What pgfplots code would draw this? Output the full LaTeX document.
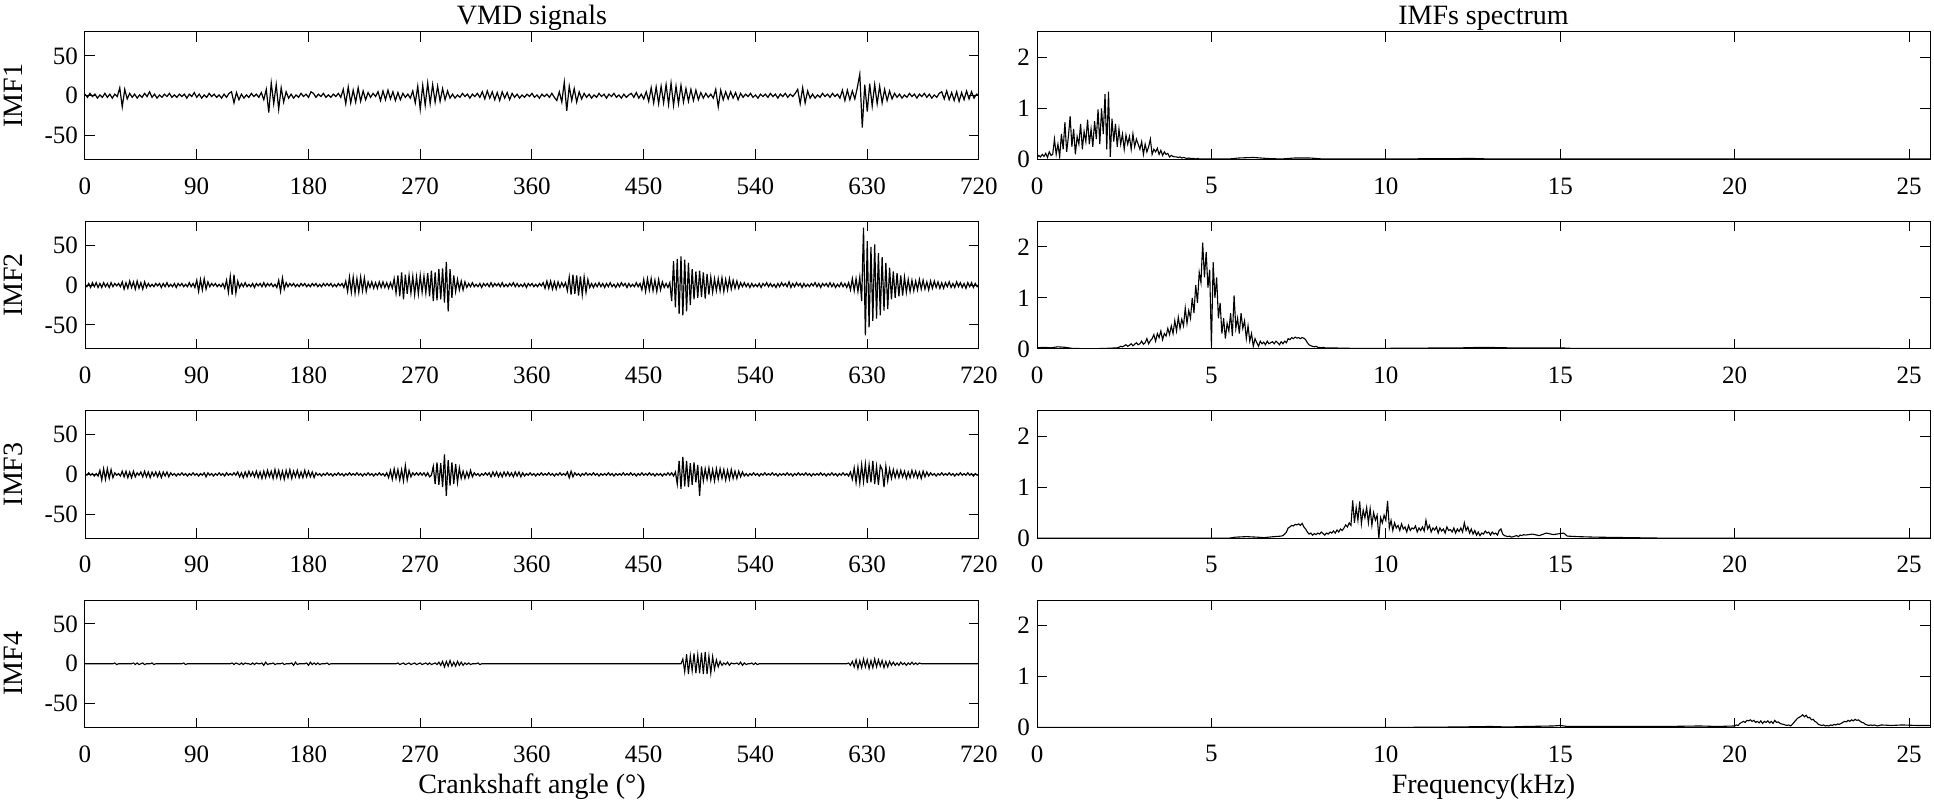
\documentclass[border=0pt]{standalone}
\usepackage{fontspec}
\setmainfont{Liberation Serif}
\usepackage{pgfplots}
\usepackage{pgfplotstable}
\pgfplotsset{compat=1.18}

% IMF1, one value every 2 degrees
\pgfplotstableread[row sep=\\]{
y\\
2\\ -2\\ 3\\ -1\\ 2\\ -3\\ 1\\ -2\\ 3\\ -2\\
2\\ -3\\ 2\\ -1\\ 10\\ -14\\ 8\\ -4\\ 3\\ -2\\
2\\ -3\\ 1\\ -2\\ 3\\ -1\\ 5\\ -2\\ 2\\ -3\\
1\\ -2\\ 2\\ -1\\ 3\\ -2\\ 1\\ -2\\ 2\\ -1\\
2\\ -3\\ 2\\ -1\\ 4\\ -2\\ 2\\ -3\\ 1\\ -2\\
3\\ -1\\ 2\\ -2\\ 1\\ -3\\ 2\\ -2\\ 3\\ 5\\
-9\\ 4\\ -5\\ 2\\ -3\\ 1\\ -2\\ 3\\ -1\\ 2\\
-2\\ 4\\ -5\\ 8\\ -21\\ 16\\ -10\\ 14\\ -17\\ 10\\
-8\\ 5\\ -3\\ 2\\ -3\\ 1\\ -2\\ 3\\ -1\\ 2\\
-2\\ 5\\ 3\\ -2\\ 2\\ -1\\ 3\\ -2\\ 1\\ -2\\
2\\ -1\\ 3\\ -2\\ 8\\ -10\\ 11\\ -9\\ 7\\ -8\\
10\\ -7\\ 6\\ -5\\ 4\\ -2\\ 3\\ -1\\ 5\\ -6\\
6\\ -5\\ 7\\ -4\\ 5\\ -6\\ 4\\ -5\\ 3\\ -2\\
2\\ -3\\ 6\\ -9\\ 12\\ -17\\ 13\\ -12\\ 16\\ -10\\
14\\ -8\\ 12\\ -7\\ 9\\ -5\\ 6\\ -3\\ 2\\ -3\\
1\\ -2\\ 3\\ -1\\ 2\\ -3\\ 2\\ -1\\ 3\\ -2\\
5\\ -4\\ 6\\ -3\\ 5\\ -5\\ 4\\ -6\\ 5\\ -3\\
4\\ -5\\ 3\\ -2\\ 2\\ -3\\ 1\\ -2\\ 2\\ -1\\
3\\ -2\\ 1\\ -3\\ 2\\ -1\\ 2\\ -2\\ 3\\ -2\\
-6\\ 5\\ -8\\ 17\\ -19\\ 12\\ -6\\ 9\\ -8\\ 5\\
-4\\ 3\\ -2\\ 2\\ -3\\ 1\\ -2\\ 3\\ -1\\ 2\\
-3\\ 2\\ -1\\ 3\\ -2\\ 1\\ -3\\ 2\\ -2\\ 1\\
3\\ -2\\ 4\\ -3\\ 2\\ -4\\ 5\\ -7\\ 10\\ -9\\
11\\ -10\\ 12\\ -9\\ 14\\ -11\\ 16\\ -12\\ 12\\ -10\\
13\\ -8\\ 9\\ -7\\ 8\\ -6\\ 7\\ -5\\ 4\\ -3\\
3\\ -2\\ 2\\ -3\\ 8\\ -14\\ 7\\ -5\\ 5\\ -4\\
5\\ -3\\ 4\\ -5\\ 3\\ -2\\ 2\\ -1\\ 3\\ -2\\
1\\ -3\\ 2\\ -1\\ 2\\ -2\\ 3\\ -1\\ 2\\ -3\\
2\\ -1\\ 3\\ -2\\ 2\\ -1\\ 3\\ 8\\ -10\\ 10\\
-9\\ 6\\ -3\\ 2\\ -3\\ 1\\ -2\\ 3\\ -1\\ 2\\
-2\\ 3\\ -1\\ 2\\ -3\\ 7\\ -6\\ 7\\ -5\\ 6\\
-4\\ 10\\ 27\\ -40\\ 14\\ -20\\ 15\\ -13\\ 14\\ -10\\
12\\ -9\\ 8\\ -6\\ 6\\ -4\\ 3\\ -2\\ 2\\ -3\\
1\\ -2\\ 3\\ -1\\ 2\\ -3\\ 2\\ -1\\ 3\\ -2\\
2\\ -3\\ 1\\ -2\\ 3\\ 5\\ -4\\ 6\\ -5\\ 4\\
-6\\ 5\\ -7\\ 4\\ -5\\ 6\\ -4\\ 5\\ -3\\ 2\\
1\\
}\imfA

% IMF2, one value every 1.5 degrees
\pgfplotstableread[row sep=\\]{
y\\
1\\ -2\\ 2\\ -3\\ 3\\ -2\\ 3\\ -3\\ 2\\ -3\\ 3\\ -2\\ 2\\ -3\\ 3\\ -2\\ 2\\ -1\\ 2\\ -2\\
4\\ -5\\ 3\\ -4\\ 5\\ -3\\ 4\\ -5\\ 5\\ -4\\ 3\\ -5\\ 4\\ -3\\ 2\\ -2\\ 1\\ -2\\ 2\\ -1\\
2\\ -3\\ 2\\ -2\\ 3\\ -2\\ 1\\ -2\\ 2\\ -3\\ 2\\ -1\\ 2\\ -2\\ 1\\ -2\\ 3\\ -2\\ 2\\ -3\\
6\\ -8\\ 7\\ -6\\ 8\\ -5\\ 4\\ -2\\ 2\\ -1\\ 2\\ -2\\ 1\\ -2\\ 2\\ -4\\ 6\\ -9\\ 11\\ -12\\
13\\ -10\\ 5\\ -3\\ 2\\ -2\\ 3\\ -2\\ 1\\ -2\\ 2\\ -3\\ 2\\ -1\\ 2\\ -2\\ 3\\ -2\\ 2\\ -1\\
2\\ -2\\ 1\\ -3\\ 6\\ -8\\ 9\\ -5\\ 3\\ -2\\ 2\\ -1\\ 2\\ -2\\ 1\\ -2\\ 2\\ -1\\ 2\\ -2\\
1\\ -2\\ 2\\ -1\\ 2\\ -2\\ 1\\ -2\\ 2\\ -1\\ 2\\ -1\\ 2\\ -2\\ 1\\ -2\\ 2\\ -1\\ 2\\ -3\\
5\\ -8\\ 10\\ -9\\ 10\\ -10\\ 8\\ -9\\ 10\\ -7\\ 9\\ -8\\ 4\\ -3\\ 4\\ -4\\ 3\\ -4\\ 4\\ -3\\
4\\ -3\\ 3\\ -4\\ 3\\ -4\\ 8\\ -10\\ 12\\ -14\\ 16\\ -18\\ 13\\ -11\\ 12\\ -10\\ 11\\ -12\\ 10\\ -11\\
12\\ -9\\ 11\\ -10\\ 15\\ -14\\ 18\\ -20\\ 16\\ -19\\ 20\\ -18\\ 21\\ -22\\ 29\\ -33\\ 20\\ -16\\ 12\\ -8\\
7\\ -6\\ 5\\ -6\\ 4\\ -3\\ 2\\ -2\\ 3\\ -2\\ 1\\ -2\\ 2\\ -3\\ 2\\ -1\\ 2\\ -2\\ 3\\ -2\\
2\\ -1\\ 2\\ -2\\ 3\\ -2\\ 1\\ -2\\ 2\\ -1\\ 3\\ -2\\ 2\\ -2\\ 1\\ -2\\ 2\\ -3\\ 2\\ -1\\
2\\ -2\\ 1\\ -2\\ 2\\ -1\\ 3\\ -4\\ 5\\ -4\\ 5\\ -5\\ 4\\ -5\\ 4\\ -3\\ 3\\ -2\\ 3\\ -7\\
10\\ -12\\ 13\\ -11\\ 12\\ -13\\ 11\\ -12\\ 10\\ -9\\ 7\\ -3\\ 2\\ -3\\ 2\\ -2\\ 3\\ -2\\ 2\\ -3\\
2\\ -2\\ 3\\ -2\\ 1\\ -3\\ 2\\ -2\\ 3\\ -1\\ 2\\ -3\\ 2\\ -2\\ 1\\ -2\\ 3\\ -2\\ 2\\ -6\\
7\\ -8\\ 8\\ -6\\ 8\\ -7\\ 6\\ -8\\ 7\\ -6\\ 4\\ -3\\ 2\\ -3\\ 3\\ -20\\ 30\\ -28\\ 33\\ -36\\
36\\ -38\\ 32\\ -33\\ 28\\ -25\\ 20\\ -18\\ 17\\ -16\\ 18\\ -15\\ 16\\ -17\\ 14\\ -12\\ 10\\ -9\\ 8\\ -7\\
8\\ -7\\ 9\\ -8\\ 7\\ -6\\ 8\\ -5\\ 6\\ -4\\ 5\\ -4\\ 3\\ -2\\ 3\\ -2\\ 2\\ -3\\ 2\\ -2\\
1\\ -2\\ 2\\ -3\\ 2\\ -1\\ 3\\ -2\\ 2\\ -2\\ 1\\ -3\\ 2\\ -2\\ 3\\ -1\\ 2\\ -2\\ 4\\ -3\\
2\\ -2\\ 3\\ -1\\ 2\\ -3\\ 2\\ -2\\ 1\\ -2\\ 2\\ -1\\ 3\\ -2\\ 2\\ -3\\ 2\\ -1\\ 2\\ -2\\
3\\ -2\\ 2\\ -3\\ 1\\ -2\\ 3\\ -2\\ 2\\ -3\\ 3\\ -6\\ 8\\ -7\\ 8\\ -8\\ 10\\ -20\\ 72\\ -63\\
55\\ -53\\ 48\\ -45\\ 51\\ -42\\ 40\\ -38\\ 35\\ -32\\ 28\\ -30\\ 22\\ -18\\ 17\\ -16\\ 15\\ -14\\ 12\\ -13\\
10\\ -9\\ 7\\ -8\\ 6\\ -7\\ 5\\ -6\\ 7\\ -5\\ 6\\ -5\\ 4\\ -6\\ 5\\ -4\\ 5\\ -3\\ 4\\ -4\\
3\\ -4\\ 3\\ -2\\ 4\\ -3\\ 2\\ -3\\ 4\\ -2\\ 3\\ -3\\ 2\\ -4\\ 3\\ -2\\ 3\\ -3\\ 2\\ -2\\
1\\
}\imfB

% IMF3, one value every 1.5 degrees
\pgfplotstableread[row sep=\\]{
y\\
1\\ -1\\ 2\\ -1\\ 1\\ -2\\ 1\\ -2\\ 5\\ -7\\ 7\\ -6\\ 7\\ -5\\ 6\\ -4\\ 2\\ -1\\ 1\\ -2\\
4\\ -3\\ 4\\ -4\\ 3\\ -4\\ 4\\ -3\\ 2\\ -1\\ 3\\ -3\\ 4\\ -3\\ 3\\ -4\\ 3\\ -2\\ 3\\ -3\\
3\\ -4\\ 3\\ -2\\ 3\\ -3\\ 2\\ -1\\ 1\\ -2\\ 1\\ -1\\ 2\\ -1\\ 1\\ -2\\ 1\\ -1\\ 2\\ -1\\
1\\ -2\\ 1\\ -1\\ 2\\ -3\\ 2\\ -1\\ 1\\ -2\\ 1\\ -1\\ 2\\ -1\\ 1\\ -2\\ 2\\ -1\\ 1\\ -1\\
2\\ -1\\ 3\\ -3\\ 2\\ -4\\ 3\\ -3\\ 4\\ -2\\ 3\\ -3\\ 4\\ -4\\ 3\\ -5\\ 4\\ -4\\ 5\\ -3\\
4\\ -5\\ 6\\ -4\\ 5\\ -5\\ 4\\ -6\\ 5\\ -4\\ 6\\ -5\\ 4\\ -3\\ 5\\ -4\\ 3\\ -4\\ 5\\ -3\\
4\\ -3\\ 3\\ -4\\ 2\\ -1\\ 1\\ -2\\ 1\\ -1\\ 2\\ -1\\ 1\\ -2\\ 1\\ -1\\ 2\\ -1\\ 1\\ -2\\
1\\ -1\\ 2\\ -1\\ 1\\ -1\\ 2\\ -1\\ 1\\ -2\\ 1\\ -1\\ 2\\ -1\\ 1\\ -2\\ 1\\ -1\\ 2\\ -1\\
1\\ -2\\ 2\\ -4\\ 5\\ -6\\ 7\\ -5\\ 6\\ -7\\ 6\\ -8\\ 11\\ -7\\ 5\\ -3\\ 2\\ -1\\ 2\\ -1\\
2\\ -1\\ 2\\ -2\\ 2\\ -3\\ -1\\ 10\\ -12\\ 15\\ -13\\ 14\\ -16\\ 25\\ -27\\ 18\\ -14\\ 15\\ -12\\ 13\\
-10\\ 8\\ -5\\ 4\\ -5\\ 3\\ -4\\ 5\\ -3\\ 2\\ -1\\ 1\\ -2\\ 1\\ -1\\ 2\\ -1\\ 2\\ -3\\ 3\\
-2\\ 3\\ -3\\ 2\\ -3\\ 3\\ -2\\ 3\\ -2\\ 2\\ -3\\ 3\\ -2\\ 3\\ -3\\ 2\\ -2\\ 1\\ -1\\ 2\\
-1\\ 1\\ -2\\ 1\\ -1\\ 2\\ -1\\ 1\\ -1\\ 2\\ -1\\ 1\\ -2\\ 1\\ -1\\ 2\\ -1\\ 1\\ -1\\ 3\\
-4\\ 4\\ -3\\ 2\\ -1\\ 1\\ -2\\ 1\\ -1\\ 2\\ -1\\ 1\\ -1\\ 2\\ -1\\ 1\\ -2\\ 1\\ -1\\ 1\\
-1\\ 2\\ -1\\ 1\\ -2\\ 1\\ -1\\ 1\\ -1\\ 2\\ -1\\ 1\\ -1\\ 2\\ -1\\ 1\\ -2\\ 1\\ -1\\ 2\\
-1\\ 1\\ -1\\ 2\\ -1\\ 1\\ -2\\ 1\\ -1\\ 1\\ -2\\ 1\\ -1\\ 2\\ -1\\ 2\\ -2\\ 3\\ -12\\ 17\\
-18\\ 22\\ -15\\ 17\\ -16\\ 14\\ -13\\ 15\\ -10\\ 12\\ -27\\ 10\\ -8\\ 7\\ -6\\ 8\\ -7\\ 6\\ -8\\ 7\\
-6\\ 7\\ -5\\ 6\\ -7\\ 5\\ -6\\ 6\\ -5\\ 4\\ -5\\ 4\\ -3\\ 3\\ -2\\ 1\\ -2\\ 1\\ -1\\ 2\\
-1\\ 1\\ -2\\ 1\\ -1\\ 2\\ -1\\ 1\\ -1\\ 2\\ -1\\ 1\\ -2\\ 1\\ -1\\ 1\\ -1\\ 2\\ -1\\ 1\\
-2\\ 1\\ -1\\ 2\\ -1\\ 1\\ -1\\ 2\\ -1\\ 1\\ -2\\ 1\\ -1\\ 1\\ -1\\ 2\\ -1\\ 1\\ -2\\ 1\\
-1\\ 2\\ -1\\ 1\\ -2\\ 1\\ -1\\ 2\\ -1\\ 1\\ -2\\ 3\\ -6\\ 8\\ -10\\ 9\\ -11\\ 12\\ -9\\ 13\\
-11\\ 12\\ -10\\ 17\\ -12\\ 10\\ -13\\ 11\\ 6\\ -16\\ 10\\ -8\\ 7\\ -5\\ 6\\ -4\\ 5\\ -4\\ 5\\ -3\\
4\\ -5\\ 3\\ -4\\ 5\\ -3\\ 4\\ -4\\ 3\\ -5\\ 4\\ -3\\ 3\\ -2\\ 2\\ -1\\ 1\\ -2\\ 1\\ -1\\
2\\ -1\\ 1\\ -1\\ 2\\ -1\\ 1\\ -2\\ 1\\ -1\\ 2\\ -1\\ 1\\ -1\\ 2\\ -1\\ 1\\ -2\\ 1\\ -1\\
0\\
}\imfC

% IMF4, one value every 1.5 degrees
\pgfplotstableread[row sep=\\]{
y\\
0\\ 0\\ 0\\ 0\\ 0\\ 0\\ 0\\ 0\\ 0\\ 0\\ 0\\ 0\\ 0\\ 0\\ 0\\ 0\\ 1\\ -1\\ 0\\ 0\\
0\\ 0\\ 0\\ 0\\ 0\\ 0\\ 1\\ -1\\ 1\\ -1\\ 0\\ 1\\ -1\\ 0\\ 0\\ 0\\ 1\\ -1\\ 0\\ 0\\
0\\ 0\\ 0\\ 0\\ 0\\ 0\\ 0\\ 0\\ 0\\ 0\\ 0\\ 0\\ 0\\ 1\\ -1\\ 0\\ 0\\ 0\\ 0\\ 0\\
0\\ 0\\ 0\\ 0\\ 0\\ 0\\ 0\\ 0\\ 0\\ 0\\ 0\\ 0\\ 0\\ 0\\ 0\\ 0\\ 0\\ 0\\ 0\\ 1\\
-1\\ 1\\ 0\\ -1\\ 1\\ -1\\ 1\\ 0\\ 0\\ -1\\ 1\\ -1\\ 1\\ 0\\ 0\\ 1\\ -2\\ 2\\ -1\\ 0\\
0\\ 1\\ -1\\ 0\\ 0\\ 0\\ 1\\ -1\\ 0\\ 0\\ 0\\ 1\\ -2\\ 2\\ -1\\ 0\\ 0\\ 0\\ 0\\ 1\\
-2\\ 2\\ -1\\ 1\\ -1\\ 1\\ -1\\ 0\\ 0\\ 0\\ 1\\ -1\\ 0\\ 0\\ 0\\ 0\\ 0\\ 0\\ 0\\ 0\\
0\\ 0\\ 0\\ 0\\ 0\\ 0\\ 0\\ 0\\ 0\\ 0\\ 0\\ 0\\ 0\\ 0\\ 0\\ 0\\ 0\\ 0\\ 0\\ 0\\
0\\ 0\\ 0\\ 0\\ 0\\ 0\\ 0\\ 0\\ 1\\ -1\\ 0\\ 1\\ -1\\ 0\\ 1\\ -1\\ 0\\ 1\\ -1\\ 0\\
1\\ -1\\ 0\\ 1\\ -1\\ 1\\ -1\\ 0\\ 1\\ -1\\ 2\\ -2\\ 3\\ -4\\ 3\\ -3\\ 4\\ -3\\ 2\\ -3\\
3\\ -2\\ 2\\ -2\\ 1\\ -1\\ 1\\ -1\\ 0\\ 0\\ 0\\ 1\\ -1\\ 0\\ 0\\ 0\\ 0\\ 0\\ 0\\ 0\\
0\\ 0\\ 0\\ 0\\ 0\\ 0\\ 0\\ 0\\ 0\\ 0\\ 0\\ 0\\ 0\\ 0\\ 0\\ 0\\ 0\\ 0\\ 0\\ 0\\
0\\ 0\\ 0\\ 0\\ 0\\ 0\\ 0\\ 0\\ 0\\ 0\\ 0\\ 0\\ 0\\ 0\\ 0\\ 0\\ 0\\ 0\\ 0\\ 0\\
0\\ 0\\ 0\\ 0\\ 0\\ 0\\ 0\\ 0\\ 0\\ 0\\ 0\\ 0\\ 0\\ 0\\ 0\\ 0\\ 0\\ 0\\ 0\\ 0\\
0\\ 0\\ 0\\ 0\\ 0\\ 0\\ 0\\ 0\\ 0\\ 0\\ 0\\ 0\\ 0\\ 0\\ 0\\ 0\\ 0\\ 0\\ 0\\ 0\\
0\\ 0\\ 0\\ 0\\ 0\\ 0\\ 0\\ 0\\ 0\\ 0\\ 0\\ 0\\ 0\\ 0\\ 0\\ 0\\ 0\\ 0\\ 0\\ 0\\
0\\ 6\\ -10\\ 12\\ -13\\ 10\\ -9\\ 13\\ -12\\ 11\\ -12\\ 14\\ -13\\ 15\\ -13\\ 10\\ -12\\ 9\\ -7\\ 5\\
-4\\ 3\\ -2\\ 1\\ -1\\ 2\\ -2\\ 1\\ 0\\ 0\\ 1\\ -1\\ 2\\ -2\\ 1\\ -1\\ 0\\ 0\\ 1\\ -1\\
1\\ -1\\ 0\\ 0\\ 0\\ 0\\ 0\\ 0\\ 0\\ 0\\ 0\\ 0\\ 0\\ 0\\ 0\\ 0\\ 0\\ 0\\ 0\\ 0\\
0\\ 0\\ 0\\ 0\\ 0\\ 0\\ 0\\ 0\\ 0\\ 0\\ 0\\ 0\\ 0\\ 0\\ 0\\ 0\\ 0\\ 0\\ 0\\ 0\\
0\\ 0\\ 0\\ 0\\ 0\\ 0\\ 0\\ 0\\ 0\\ 0\\ 1\\ -2\\ 3\\ -4\\ 5\\ -6\\ 4\\ -5\\ 6\\ -4\\
5\\ -6\\ 4\\ -5\\ 6\\ -4\\ 5\\ -3\\ 4\\ -5\\ 3\\ -4\\ 3\\ -2\\ 2\\ -2\\ 1\\ -2\\ 2\\ -1\\
1\\ -2\\ 1\\ -1\\ 2\\ -1\\ 1\\ -1\\ 1\\ 0\\ 0\\ 0\\ 0\\ 0\\ 0\\ 0\\ 0\\ 0\\ 0\\ 0\\
0\\ 0\\ 0\\ 0\\ 0\\ 0\\ 0\\ 0\\ 0\\ 0\\ 0\\ 0\\ 0\\ 0\\ 0\\ 0\\ 0\\ 0\\ 0\\ 0\\
0\\
}\imfD

% spectra, one value every 0.05 kHz over the active band
\pgfplotstableread[row sep=\\]{
y\\
0.03\\ 0.08\\ 0.05\\ 0.1\\ 0.06\\ 0.12\\ 0.04\\ 0.15\\ 0.08\\ 0.1\\
0.4\\ 0.1\\ 0.3\\ 0.05\\ 0.5\\ 0.2\\ 0.73\\ 0.15\\ 0.45\\ 0.85\\
0.25\\ 0.6\\ 0.1\\ 0.45\\ 0.3\\ 0.7\\ 0.2\\ 0.55\\ 0.35\\ 0.78\\
0.3\\ 0.6\\ 0.25\\ 0.75\\ 0.4\\ 0.98\\ 0.3\\ 1.0\\ 0.5\\ 1.28\\
0.2\\ 1.33\\ 0.05\\ 0.8\\ 0.35\\ 0.7\\ 0.25\\ 0.6\\ 0.3\\ 0.5\\
0.2\\ 0.48\\ 0.3\\ 0.45\\ 0.2\\ 0.5\\ 0.25\\ 0.4\\ 0.3\\ 0.2\\
0.35\\ 0.1\\ 0.3\\ 0.15\\ 0.25\\ 0.4\\ 0.1\\ 0.2\\ 0.15\\ 0.22\\
0.1\\ 0.18\\ 0.08\\ 0.15\\ 0.1\\ 0.12\\ 0.05\\ 0.08\\ 0.06\\ 0.05\\
0.05\\ 0.04\\ 0.05\\ 0.03\\ 0.04\\ 0.03\\ 0.02\\ 0.03\\ 0.02\\ 0.02\\
0.02\\ 0.01\\ 0.02\\ 0.01\\ 0.01\\ 0.01\\ 0.01\\ 0.01\\ 0.01\\ 0.01\\
0.01\\
}\spA

\pgfplotstableread[row sep=\\]{
y\\
0.02\\ 0.03\\ 0.05\\ 0.04\\ 0.06\\ 0.08\\ 0.05\\ 0.07\\ 0.1\\ 0.06\\
0.09\\ 0.12\\ 0.08\\ 0.1\\ 0.15\\ 0.09\\ 0.12\\ 0.2\\ 0.1\\ 0.16\\
0.2\\ 0.28\\ 0.15\\ 0.3\\ 0.22\\ 0.35\\ 0.18\\ 0.3\\ 0.25\\ 0.4\\
0.28\\ 0.45\\ 0.3\\ 0.55\\ 0.35\\ 0.62\\ 0.4\\ 0.58\\ 0.45\\ 0.8\\
0.5\\ 0.75\\ 0.6\\ 1.0\\ 0.7\\ 1.25\\ 0.9\\ 1.5\\ 1.3\\ 2.08\\
1.4\\ 1.9\\ 1.2\\ 1.55\\ 0.05\\ 1.7\\ 1.0\\ 1.4\\ 0.6\\ 0.9\\
0.3\\ 0.6\\ 0.2\\ 0.5\\ 0.35\\ 0.7\\ 0.25\\ 1.05\\ 0.4\\ 0.6\\
0.3\\ 0.7\\ 0.4\\ 0.55\\ 0.2\\ 0.45\\ 0.15\\ 0.3\\ 0.05\\ 0.2\\
0.12\\ 0.05\\ 0.15\\ 0.1\\ 0.13\\ 0.08\\ 0.15\\ 0.1\\ 0.12\\ 0.14\\
0.1\\ 0.15\\ 0.12\\ 0.08\\ 0.14\\ 0.1\\ 0.15\\ 0.12\\ 0.2\\ 0.18\\
0.22\\ 0.2\\ 0.23\\ 0.21\\ 0.22\\ 0.2\\ 0.22\\ 0.21\\ 0.18\\ 0.12\\
0.08\\ 0.06\\ 0.05\\ 0.04\\ 0.05\\ 0.03\\ 0.03\\ 0.02\\ 0.03\\ 0.02\\
0.02\\
}\spB

\pgfplotstableread[row sep=\\]{
y\\
0.04\\ 0.05\\ 0.08\\ 0.12\\ 0.2\\ 0.22\\ 0.25\\ 0.24\\ 0.27\\ 0.26\\
0.28\\ 0.25\\ 0.29\\ 0.22\\ 0.18\\ 0.12\\ 0.08\\ 0.1\\ 0.06\\ 0.09\\
0.07\\ 0.1\\ 0.08\\ 0.12\\ 0.09\\ 0.06\\ 0.1\\ 0.08\\ 0.12\\ 0.1\\
0.14\\ 0.1\\ 0.16\\ 0.12\\ 0.18\\ 0.15\\ 0.2\\ 0.26\\ 0.22\\ 0.3\\
0.25\\ 0.74\\ 0.3\\ 0.6\\ 0.35\\ 0.72\\ 0.28\\ 0.55\\ 0.4\\ 0.6\\
0.3\\ 0.58\\ 0.25\\ 0.5\\ 0.35\\ 0.45\\ 0.0\\ 0.4\\ 0.3\\ 0.45\\
0.35\\ 0.73\\ 0.2\\ 0.35\\ 0.15\\ 0.3\\ 0.2\\ 0.25\\ 0.15\\ 0.28\\
0.18\\ 0.22\\ 0.12\\ 0.25\\ 0.15\\ 0.2\\ 0.18\\ 0.24\\ 0.12\\ 0.2\\
0.15\\ 0.22\\ 0.14\\ 0.35\\ 0.18\\ 0.25\\ 0.12\\ 0.2\\ 0.16\\ 0.22\\
0.1\\ 0.2\\ 0.14\\ 0.18\\ 0.1\\ 0.22\\ 0.15\\ 0.17\\ 0.12\\ 0.2\\
0.1\\ 0.18\\ 0.13\\ 0.2\\ 0.12\\ 0.3\\ 0.15\\ 0.22\\ 0.1\\ 0.18\\
0.08\\ 0.15\\ 0.06\\ 0.12\\ 0.05\\ 0.1\\ 0.08\\ 0.14\\ 0.1\\ 0.12\\
0.06\\ 0.12\\ 0.08\\ 0.1\\ 0.06\\ 0.15\\ 0.18\\ 0.08\\ 0.05\\ 0.04\\
0.03\\ 0.04\\ 0.02\\ 0.03\\ 0.04\\ 0.05\\ 0.03\\ 0.06\\ 0.05\\ 0.07\\
0.06\\
}\spC

\pgfplotstableread[row sep=\\]{
y\\
0.03\\ 0.05\\ 0.04\\ 0.08\\ 0.1\\ 0.12\\ 0.1\\ 0.14\\ 0.13\\ 0.15\\
0.12\\ 0.14\\ 0.1\\ 0.12\\ 0.09\\ 0.13\\ 0.08\\ 0.12\\ 0.1\\ 0.13\\
0.09\\ 0.12\\ 0.08\\ 0.14\\ 0.1\\ 0.11\\ 0.08\\ 0.07\\ 0.06\\ 0.05\\
0.04\\ 0.05\\ 0.03\\ 0.06\\ 0.1\\ 0.14\\ 0.18\\ 0.2\\ 0.22\\ 0.25\\
0.21\\ 0.24\\ 0.19\\ 0.2\\ 0.15\\ 0.16\\ 0.12\\ 0.1\\ 0.06\\ 0.05\\
0.04\\ 0.05\\ 0.03\\ 0.04\\ 0.03\\ 0.05\\ 0.04\\ 0.06\\ 0.05\\ 0.07\\
0.06\\ 0.08\\ 0.1\\ 0.12\\ 0.11\\ 0.14\\ 0.12\\ 0.15\\ 0.13\\ 0.16\\
0.14\\ 0.15\\ 0.12\\ 0.1\\ 0.09\\ 0.06\\ 0.05\\ 0.04\\ 0.05\\ 0.04\\
0.05\\ 0.04\\ 0.03\\ 0.04\\ 0.05\\
}\spD

\pgfplotsset{
  every axis title/.style={at={(0.5,1)}, anchor=base, yshift=3.5pt,
    font=\fontsize{14}{15}\selectfont},
  every axis/.append style={
    scale only axis, height=63.75pt, anchor=north west,
    tick align=inside, major tick length=5pt,
    axis line style={line width=0.5pt},
    every tick/.style={black, line width=0.5pt},
    /pgf/number format/assume math mode=true,
    tick label style={font=\fontsize{12.5}{13}\selectfont},
    label style={font=\fontsize{14}{15}\selectfont},
    xticklabel style={yshift=-5.5pt},
    xlabel style={yshift=1pt},
    no markers,
  },
  sig/.style={width=447pt, xmin=0, xmax=720, ymin=-80, ymax=80,
    xtick={0,90,...,720}, ytick={-50,0,50},
    ylabel style={at={(axis description cs:-0.0805,0.5)}, anchor=center}},
  spec/.style={width=446.5pt, xmin=0, xmax=25.6, ymin=0, ymax=2.5,
    xtick={0,5,...,25}, ytick={0,1,2}},
}

\begin{document}
\begin{tikzpicture}
\useasboundingbox (0,0) rectangle (967pt,-403.5pt);

% left column: VMD signals
\begin{axis}[sig, at={(42.5pt,-16pt)}, ylabel={IMF1}, title={VMD signals}]
  \addplot[black, line width=0.6pt] table[x expr=\coordindex*2, y=y] {\imfA};
\end{axis}
\begin{axis}[sig, at={(42.5pt,-110.67pt)}, ylabel={IMF2}]
  \addplot[black, line width=0.6pt] table[x expr=\coordindex*1.5, y=y] {\imfB};
\end{axis}
\begin{axis}[sig, at={(42.5pt,-205.33pt)}, ylabel={IMF3}]
  \addplot[black, line width=0.6pt] table[x expr=\coordindex*1.5, y=y] {\imfC};
\end{axis}
\begin{axis}[sig, at={(42.5pt,-300pt)}, ylabel={IMF4}, xlabel={Crankshaft angle (°)}]
  \addplot[black, line width=0.55pt] table[x expr=\coordindex*1.5, y=y] {\imfD};
\end{axis}

% right column: spectra
\begin{axis}[spec, at={(518.5pt,-16pt)}, title={IMFs spectrum}]
  \addplot[black, line width=0.55pt] table[x expr=\coordindex*0.05, y=y] {\spA};
  \addplot[black, line width=0.55pt] coordinates {(5,0.01) (5.5,0.01) (5.8,0.03) (6.2,0.04) (6.6,0.02) (7.0,0.01) (7.4,0.03) (7.8,0.03) (8.2,0.01) (10,0.01) (12.5,0.02) (13,0.01) (16,0.01) (25.6,0.01)};
\end{axis}
\begin{axis}[spec, at={(518.5pt,-110.67pt)}]
  \addplot[black, line width=0.55pt] coordinates {(0,0.02) (0.2,0.03) (0.4,0.02) (0.6,0.04) (0.8,0.03) (1.0,0.01) (1.5,0.0) (2.0,0.01) (2.3,0.02)};
  \addplot[black, line width=0.55pt] table[x expr=2.3+\coordindex*0.05, y=y] {\spB};
  \addplot[black, line width=0.55pt] coordinates {(8.3,0.02) (9,0.01) (10,0.01) (12.2,0.02) (12.8,0.03) (13.5,0.02) (15,0.02) (15.3,0.01) (25.6,0.005)};
\end{axis}
\begin{axis}[spec, at={(518.5pt,-205.33pt)}]
  \addplot[black, line width=0.55pt] coordinates {(0,0) (5.5,0.0) (5.7,0.02) (6.0,0.03) (6.3,0.02) (6.5,0.01) (6.8,0.03) (7.0,0.04)};
  \addplot[black, line width=0.55pt] table[x expr=7+\coordindex*0.05, y=y] {\spC};
  \addplot[black, line width=0.55pt] coordinates {(14.0,0.06) (14.2,0.08) (14.4,0.05) (14.6,0.1) (14.8,0.07) (15.0,0.09) (15.1,0.1) (15.2,0.04) (15.5,0.03) (16,0.02) (17,0.01) (18,0.0) (25.6,0.0)};
\end{axis}
\begin{axis}[spec, at={(518.5pt,-300pt)}, xlabel={Frequency(kHz)}]
  \addplot[black, line width=0.55pt] coordinates {(0,0) (10,0.0) (12,0.01) (13,0.02) (13.5,0.01) (14,0.02) (14.8,0.03) (15.0,0.04) (15.2,0.02) (16,0.02) (17,0.02) (18,0.02) (19,0.03) (19.5,0.02) (20,0.03)};
  \addplot[black, line width=0.55pt] table[x expr=20+\coordindex*0.05, y=y] {\spD};
  \addplot[black, line width=0.55pt] coordinates {(24.2,0.05) (24.5,0.04) (24.8,0.05) (25.2,0.04) (25.6,0.04)};
\end{axis}
\end{tikzpicture}
\end{document}
